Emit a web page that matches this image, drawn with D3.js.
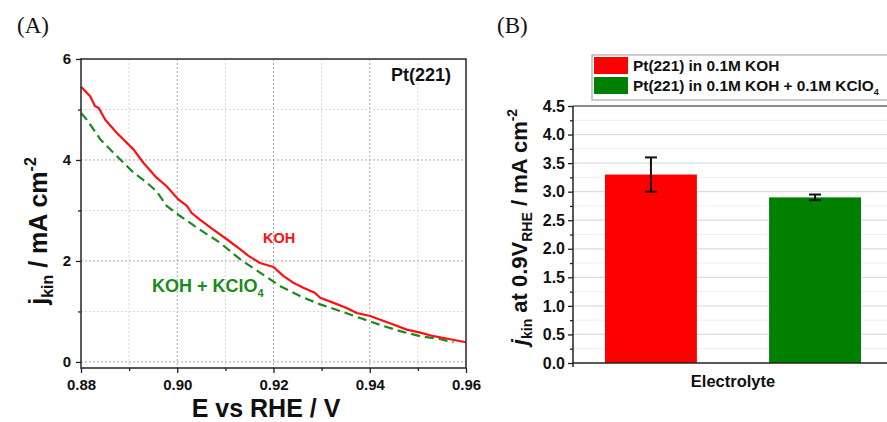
<!DOCTYPE html>
<html>
<head>
<meta charset="utf-8">
<script src="https://cdn.jsdelivr.net/npm/d3@7"></script>
<style>
  html, body { margin: 0; padding: 0; background: #fff; }
  svg { display: block; font-family: "Liberation Sans", Arial, sans-serif; }
  .panel-letter { font-family: "Liberation Serif", "Times New Roman", serif; }
</style>
</head>
<body>
<svg id="chart" width="887" height="422"></svg>
<script>
// ---- Panel A: kinetic current vs potential ----
const potentialKOH = [0.880, 0.8819, 0.8829, 0.8837, 0.8850, 0.8874, 0.8909, 0.8930, 0.8957, 0.8978,
  0.9001, 0.9020, 0.9030, 0.9047, 0.9075, 0.9103, 0.9131, 0.9148, 0.9172, 0.9200,
  0.9221, 0.9241, 0.9262, 0.9286, 0.9297, 0.9325, 0.9352, 0.9373, 0.9401, 0.9429,
  0.9449, 0.9477, 0.9505, 0.9533, 0.9567, 0.9600];
const jKOH = [5.45, 5.26, 5.07, 5.03, 4.80, 4.54, 4.21, 3.94, 3.65, 3.48,
  3.23, 3.09, 2.95, 2.82, 2.62, 2.43, 2.23, 2.10, 1.96, 1.88,
  1.70, 1.57, 1.47, 1.37, 1.27, 1.17, 1.07, 0.97, 0.91, 0.81,
  0.74, 0.64, 0.58, 0.51, 0.45, 0.39];

const potentialKClO4 = [0.880, 0.8812, 0.8840, 0.8874, 0.8909, 0.8937, 0.8957, 0.8978, 0.9006, 0.9047,
  0.9089, 0.9131, 0.9172, 0.9214, 0.9256, 0.9297, 0.9338, 0.9380, 0.9429, 0.9463,
  0.9505, 0.9547, 0.9574];
const jKClO4 = [4.93, 4.80, 4.41, 4.08, 3.75, 3.55, 3.38, 3.09, 2.89, 2.62,
  2.36, 2.03, 1.77, 1.50, 1.30, 1.14, 1.01, 0.87, 0.71, 0.61,
  0.51, 0.45, 0.39];

const xTicksA = [0.88, 0.90, 0.92, 0.94, 0.96];
const xMinorA = [0.89, 0.91, 0.93, 0.95];
const yTicksA = [0, 2, 4, 6];
const yMinorA = [1, 3, 5];

// ---- Panel B: kinetic current at 0.9 V ----
const electrolytes = ["KOH", "KOH + KClO4"];
const legendMain = ["Pt(221) in 0.1M KOH", "Pt(221) in 0.1M KOH + 0.1M KClO"];
const legendSub = ["", "4"];
const jkinAt09 = [3.30, 2.90];
const jkinErr = [0.30, 0.05];
const barColors = ["#ff0000", "#008000"];
const yTicksB = [0, 0.5, 1.0, 1.5, 2.0, 2.5, 3.0, 3.5, 4.0, 4.5];
const yMinorB = [0.25, 0.75, 1.25, 1.75, 2.25, 2.75, 3.25, 3.75, 4.25];

const svg = d3.select("#chart");

function styleAxis(g, size) {
  g.select(".domain").remove();
  g.attr("font-family", null);
  g.selectAll(".tick line").attr("stroke", "#222").attr("stroke-width", 1.3);
  g.selectAll(".tick text")
    .attr("fill", "#111").attr("font-weight", "bold").attr("font-size", size);
}
function styleMinor(g) {
  g.select(".domain").remove();
  g.selectAll(".tick line").attr("stroke", "#222").attr("stroke-width", 1.3);
}

// ================= Panel A =================
const A = { left: 81, right: 466, top: 59, bottom: 368 };
const xA = d3.scaleLinear().domain([0.88, 0.96]).range([A.left, A.right]);
const yA = d3.scaleLinear().domain([-0.12, 6]).range([A.bottom, A.top]);

const gA = svg.append("g");

// dotted grid
gA.selectAll("line.gvMinor").data(xMinorA).join("line")
  .attr("x1", d => xA(d)).attr("x2", d => xA(d))
  .attr("y1", A.top).attr("y2", A.bottom)
  .attr("stroke", "#d6d6d6").attr("stroke-width", 1).attr("stroke-dasharray", "2,2");
gA.selectAll("line.gvMajor").data(xTicksA.slice(1, -1)).join("line")
  .attr("x1", d => xA(d)).attr("x2", d => xA(d))
  .attr("y1", A.top).attr("y2", A.bottom)
  .attr("stroke", "#a8a8a8").attr("stroke-width", 1).attr("stroke-dasharray", "2,2");
gA.selectAll("line.ghMinor").data(yMinorA).join("line")
  .attr("x1", A.left).attr("x2", A.right)
  .attr("y1", d => yA(d)).attr("y2", d => yA(d))
  .attr("stroke", "#d6d6d6").attr("stroke-width", 1).attr("stroke-dasharray", "2,2");
gA.selectAll("line.ghMajor").data(yTicksA.slice(0, -1)).join("line")
  .attr("x1", A.left).attr("x2", A.right)
  .attr("y1", d => yA(d)).attr("y2", d => yA(d))
  .attr("stroke", "#a8a8a8").attr("stroke-width", 1).attr("stroke-dasharray", "2,2");

// curves
const lineA = d3.line().x(d => xA(d[0])).y(d => yA(d[1]));
gA.append("path")
  .datum(d3.zip(potentialKClO4, jKClO4))
  .attr("d", lineA)
  .attr("fill", "none").attr("stroke", "#1a8a1a").attr("stroke-width", 2.2)
  .attr("stroke-dasharray", "9,5");
gA.append("path")
  .datum(d3.zip(potentialKOH, jKOH))
  .attr("d", lineA)
  .attr("fill", "none").attr("stroke", "#ff1010").attr("stroke-width", 2.2)
  .attr("stroke-linejoin", "round");

// frame
gA.append("rect")
  .attr("x", A.left).attr("y", A.top)
  .attr("width", A.right - A.left).attr("height", A.bottom - A.top)
  .attr("fill", "none").attr("stroke", "#333").attr("stroke-width", 1.6);

// axes A
const axA_x = gA.append("g").attr("transform", `translate(0,${A.bottom})`)
  .call(d3.axisBottom(xA).tickValues(xTicksA).tickFormat(d3.format(".2f")).tickSize(5).tickPadding(6));
styleAxis(axA_x, 15);
axA_x.selectAll(".tick text").attr("dy", "0.71em").attr("y", 11);
gA.append("g").attr("transform", `translate(0,${A.bottom})`)
  .call(d3.axisBottom(xA).tickValues(xMinorA).tickFormat("").tickSize(3))
  .call(styleMinor);

const axA_y = gA.append("g").attr("transform", `translate(${A.left},0)`)
  .call(d3.axisLeft(yA).tickValues(yTicksA).tickFormat(d3.format("d")).tickSize(5).tickPadding(5));
styleAxis(axA_y, 15);
gA.append("g").attr("transform", `translate(${A.left},0)`)
  .call(d3.axisLeft(yA).tickValues(yMinorA).tickFormat("").tickSize(3))
  .call(styleMinor);

// axis titles A
gA.append("text")
  .attr("x", 266).attr("y", 417)
  .attr("text-anchor", "middle").attr("font-weight", "bold").attr("font-size", 25).attr("fill", "#111")
  .text("E vs RHE / V");

const ytA = gA.append("text")
  .attr("transform", "translate(47,231) rotate(-90)")
  .attr("text-anchor", "middle").attr("font-weight", "bold").attr("font-size", 25).attr("fill", "#111");
ytA.append("tspan").text("j");
ytA.append("tspan").attr("font-size", 16).attr("dy", 6).text("kin");
ytA.append("tspan").attr("dy", -6).text(" / mA cm");
ytA.append("tspan").attr("font-size", 16).attr("dy", -11).text("-2");

// in-plot labels A
gA.append("text").attr("x", 451).attr("y", 81).attr("text-anchor", "end")
  .attr("font-weight", "bold").attr("font-size", 18).attr("fill", "#111").text("Pt(221)");
gA.append("text").attr("x", 263).attr("y", 243)
  .attr("font-weight", "bold").attr("font-size", 14.5).attr("fill", "#ff1010").text("KOH");
const lblK = gA.append("text").attr("x", 152).attr("y", 292)
  .attr("font-weight", "bold").attr("font-size", 18).attr("fill", "#1a8a1a");
lblK.append("tspan").text("KOH + KClO");
lblK.append("tspan").attr("font-size", 11).attr("dy", 5).text("4");

// panel letter
svg.append("text").attr("class", "panel-letter").attr("x", 17).attr("y", 33)
  .attr("font-size", 23).attr("fill", "#111").text("(A)");

// ================= Panel B =================
const B = { left: 573, right: 893, top: 106, bottom: 363 };
const xB = d3.scaleBand().domain(electrolytes).range([B.left, B.right])
  .paddingInner(0.44).paddingOuter(0.195);
const yB = d3.scaleLinear().domain([0, 4.5]).range([B.bottom, B.top]);

const gB = svg.append("g");

// grid
gB.selectAll("line.gMinor").data(yMinorB).join("line")
  .attr("x1", B.left).attr("x2", 900)
  .attr("y1", d => yB(d)).attr("y2", d => yB(d))
  .attr("stroke", "#eeeeee").attr("stroke-width", 1);
gB.selectAll("line.gMajor").data(yTicksB.slice(1, -1)).join("line")
  .attr("x1", B.left).attr("x2", 900)
  .attr("y1", d => yB(d)).attr("y2", d => yB(d))
  .attr("stroke", "#dcdcdc").attr("stroke-width", 1.3);

// top frame line
gB.append("line").attr("x1", B.left).attr("x2", 900)
  .attr("y1", B.top).attr("y2", B.top)
  .attr("stroke", "#666").attr("stroke-width", 1.3);

// bars
gB.selectAll("rect.bar").data(electrolytes).join("rect")
  .attr("x", d => xB(d)).attr("width", xB.bandwidth())
  .attr("y", (d, i) => yB(jkinAt09[i]))
  .attr("height", (d, i) => yB(0) - yB(jkinAt09[i]))
  .attr("fill", (d, i) => barColors[i]);

// error bars
const errG = gB.selectAll("g.err").data(electrolytes).join("g")
  .attr("transform", d => `translate(${xB(d) + xB.bandwidth() / 2},0)`);
errG.append("line")
  .attr("y1", (d, i) => yB(jkinAt09[i] + jkinErr[i]))
  .attr("y2", (d, i) => yB(jkinAt09[i] - jkinErr[i]))
  .attr("stroke", "#111").attr("stroke-width", 2);
errG.append("line").attr("x1", -6).attr("x2", 6)
  .attr("y1", (d, i) => yB(jkinAt09[i] + jkinErr[i]))
  .attr("y2", (d, i) => yB(jkinAt09[i] + jkinErr[i]))
  .attr("stroke", "#111").attr("stroke-width", 2);
errG.append("line").attr("x1", -6).attr("x2", 6)
  .attr("y1", (d, i) => yB(jkinAt09[i] - jkinErr[i]))
  .attr("y2", (d, i) => yB(jkinAt09[i] - jkinErr[i]))
  .attr("stroke", "#111").attr("stroke-width", 2);

// axes B
gB.append("line").attr("x1", B.left).attr("x2", 900)
  .attr("y1", B.bottom).attr("y2", B.bottom)
  .attr("stroke", "#222").attr("stroke-width", 1.5);
gB.append("line").attr("x1", B.left).attr("x2", B.left)
  .attr("y1", B.top).attr("y2", B.bottom + 4)
  .attr("stroke", "#222").attr("stroke-width", 1.5);

const axB_y = gB.append("g").attr("transform", `translate(${B.left},0)`)
  .call(d3.axisLeft(yB).tickValues(yTicksB).tickFormat(d3.format(".1f")).tickSize(5).tickPadding(3));
styleAxis(axB_y, 16);
gB.append("g").attr("transform", `translate(${B.left},0)`)
  .call(d3.axisLeft(yB).tickValues(yMinorB).tickFormat("").tickSize(3))
  .call(styleMinor);

gB.append("text").attr("x", 733).attr("y", 387)
  .attr("text-anchor", "middle").attr("font-weight", "bold").attr("font-size", 16.5).attr("fill", "#111")
  .text("Electrolyte");

const ytB = gB.append("text")
  .attr("transform", "translate(527,227) rotate(-90)")
  .attr("text-anchor", "middle").attr("font-weight", "bold").attr("font-size", 22).attr("fill", "#111");
ytB.append("tspan").attr("font-style", "italic").text("j");
ytB.append("tspan").attr("font-size", 14).attr("dy", 5).text("kin");
ytB.append("tspan").attr("dy", -5).text(" at 0.9V");
ytB.append("tspan").attr("font-size", 14).attr("dy", 5).text("RHE");
ytB.append("tspan").attr("dy", -5).text(" / mA cm");
ytB.append("tspan").attr("font-size", 14).attr("dy", -10).text("-2");

// legend
const leg = gB.append("g");
leg.append("rect").attr("x", 592).attr("y", 55).attr("width", 320).attr("height", 45)
  .attr("fill", "#fff").attr("stroke", "#aaa").attr("stroke-width", 1.2);
const legRow = leg.selectAll("g.row").data(legendMain).join("g")
  .attr("transform", (d, i) => `translate(593,${57 + i * 20})`);
legRow.append("rect").attr("x", 1).attr("y", 0).attr("width", 34).attr("height", 17)
  .attr("fill", (d, i) => barColors[i]);
const legText = legRow.append("text").attr("x", 40).attr("y", 14)
  .attr("font-weight", "bold").attr("font-size", 15.4).attr("fill", "#111");
legText.append("tspan").text(d => d);
legText.append("tspan").attr("font-size", 9).attr("dy", 4).text((d, i) => legendSub[i]);

svg.append("text").attr("class", "panel-letter").attr("x", 497).attr("y", 33)
  .attr("font-size", 23).attr("fill", "#111").text("(B)");
</script>
</body>
</html>
